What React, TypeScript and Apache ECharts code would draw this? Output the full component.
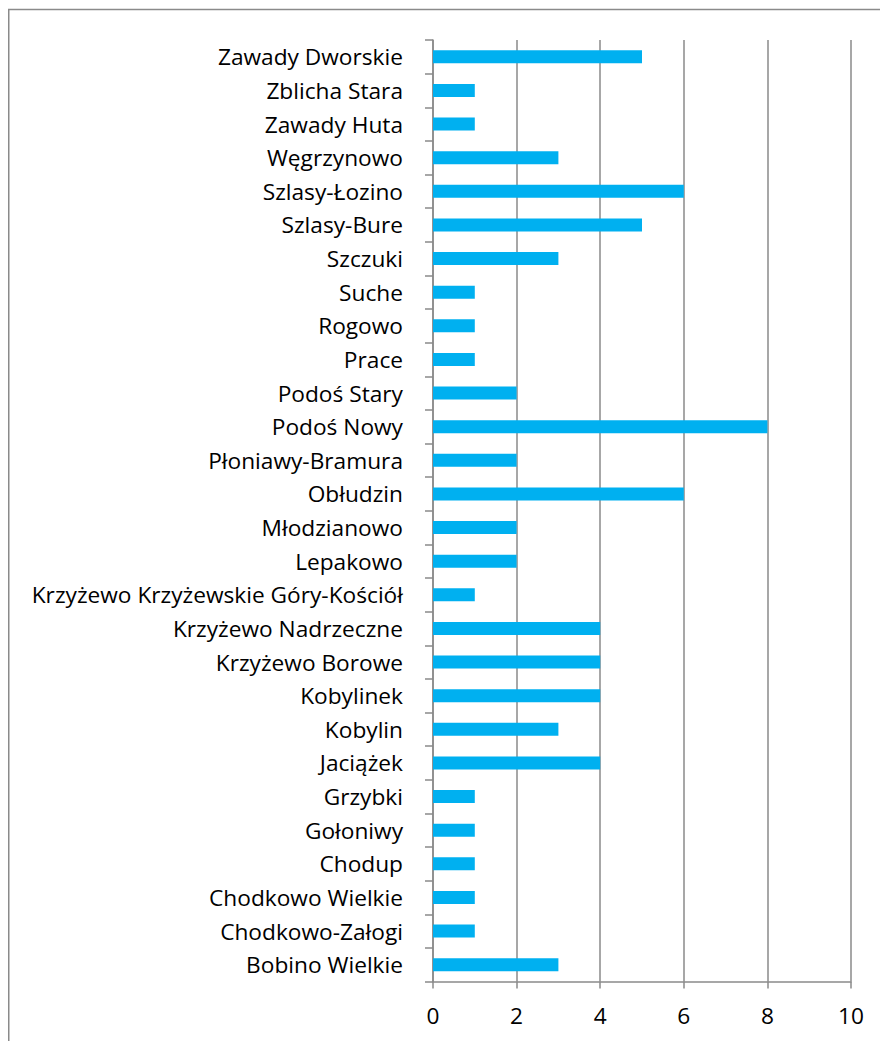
import React, { useEffect, useRef } from "react";
import * as echarts from "echarts";

const categories: string[] = [
  "Zawady Dworskie",
  "Zblicha Stara",
  "Zawady Huta",
  "Węgrzynowo",
  "Szlasy-Łozino",
  "Szlasy-Bure",
  "Szczuki",
  "Suche",
  "Rogowo",
  "Prace",
  "Podoś Stary",
  "Podoś Nowy",
  "Płoniawy-Bramura",
  "Obłudzin",
  "Młodzianowo",
  "Lepakowo",
  "Krzyżewo Krzyżewskie Góry-Kościół",
  "Krzyżewo Nadrzeczne",
  "Krzyżewo Borowe",
  "Kobylinek",
  "Kobylin",
  "Jaciążek",
  "Grzybki",
  "Gołoniwy",
  "Chodup",
  "Chodkowo Wielkie",
  "Chodkowo-Załogi",
  "Bobino Wielkie",
];

const values: number[] = [
  5, 1, 1, 3, 6, 5, 3, 1, 1, 1, 2, 8, 2, 6, 2, 2, 1, 4, 4, 4, 3, 4, 1, 1, 1, 1, 1, 3,
];

const xMin = 0;
const xMax = 10;
const xInterval = 2;

export default function App() {
  const ref = useRef<HTMLDivElement>(null);
  useEffect(() => {
    if (!ref.current) return;
    const chart = echarts.init(ref.current, null, { renderer: "svg" });
    const font = "Open Sans, Noto Sans, sans-serif";
    const gray = "#8a8a8a";
    chart.setOption({
      animation: false,
      backgroundColor: "#ffffff",
      graphic: [
        {
          type: "rect",
          shape: { x: 8.75, y: 9.5, width: 1000, height: 2000 },
          style: { fill: "none", stroke: gray, lineWidth: 1.5 },
          silent: true,
        },
      ],
      grid: { left: 433, right: 29, top: 40, bottom: 59.5, containLabel: false },
      xAxis: {
        type: "value",
        min: xMin,
        max: xMax,
        interval: xInterval,
        axisLine: { show: true, lineStyle: { color: gray, width: 1.5 } },
        axisTick: { show: true, length: 7, lineStyle: { color: gray, width: 1.5 } },
        axisLabel: { color: "#000", fontSize: 22.7, fontFamily: font, margin: 22 },
        splitLine: { show: true, lineStyle: { color: gray, width: 1.5 } },
      },
      yAxis: {
        type: "category",
        data: categories,
        inverse: true,
        axisLine: { show: true, lineStyle: { color: gray, width: 1.5 } },
        axisTick: { show: true, length: 8, lineStyle: { color: gray, width: 1.5 } },
        axisLabel: { color: "#000", fontSize: 22.7, fontFamily: font, margin: 30, interval: 0 },
      },
      series: [
        {
          type: "bar",
          data: values,
          barWidth: 13,
          itemStyle: { color: "#00B0F0" },
        },
      ],
    });
    return () => chart.dispose();
  }, []);
  return (
    <div
      ref={ref}
      style={{ position: "absolute", left: 0, top: 0, width: 880, height: 1041 }}
    />
  );
}
